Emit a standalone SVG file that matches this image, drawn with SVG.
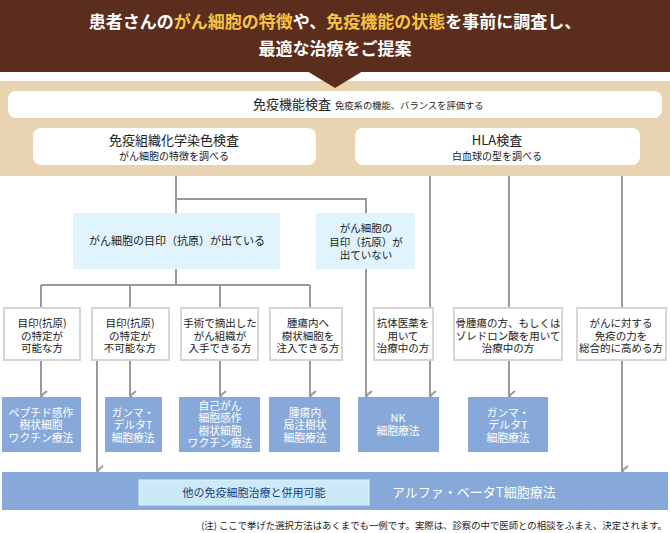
<svg xmlns="http://www.w3.org/2000/svg" width="670" height="533" viewBox="0 0 670 533">
<defs>
<style>
text{font-family:"Noto Sans CJK JP","Noto Sans",sans-serif;}
.ttl{font-size:17px;font-weight:bold;fill:#ffffff;text-anchor:middle;}
.hl{fill:#f6c443;}
.wb{fill:#ffffff;}
.rb{fill:#ffffff;stroke:#d6d6d6;stroke-width:2;}
.bb{fill:#87a9d9;}
.lb{fill:#e1f3fd;}
.t{font-size:10.5px;fill:#222;text-anchor:middle;}
.tw{font-size:10.8px;fill:#ffffff;text-anchor:middle;}
.ln{stroke:#9a9a9a;stroke-width:2;fill:none;}
</style>
<marker id="ar" viewBox="0 0 12 8" refX="6" refY="7" markerWidth="12" markerHeight="8" markerUnits="userSpaceOnUse" orient="auto-start-reverse">
<path d="M1,1 L6,7 L11,1" fill="none" stroke="#9a9a9a" stroke-width="2"/>
</marker>
</defs>
<rect width="670" height="533" fill="#ffffff"/>
<g id="header">
<rect x="0" y="0" width="670" height="72" fill="#5b2d1d"/>
<rect x="0" y="81" width="670" height="95" fill="#e8d4b1"/>
<polygon points="307,71 363,71 335,88" fill="#5b2d1d"/>
<text class="ttl" x="335" y="28">患者さんの<tspan class="hl">がん細胞の特徴</tspan>や、<tspan class="hl">免疫機能の状態</tspan>を事前に調査し、<tspan x="335" y="55">最適な治療をご提案</tspan></text>
</g>
<g id="n-kinou">
<rect class="wb" x="8" y="91" width="654" height="27" rx="8"/>
<text x="253" y="109" font-size="13" fill="#222">免疫機能検査<tspan font-size="9.3" dx="4">免疫系の機能、バランスを評価する</tspan></text>
</g>
<g id="n-soshiki">
<rect class="wb" x="33" y="128" width="283" height="37" rx="8"/>
<text x="174" y="145" font-size="13" fill="#222" text-anchor="middle">免疫組織化学染色検査<tspan x="174" y="160" font-size="10">がん細胞の特徴を調べる</tspan></text>
</g>
<g id="n-hla">
<rect class="wb" x="355" y="128" width="285" height="37" rx="8"/>
<text x="497" y="145" font-size="13" fill="#222" text-anchor="middle">HLA検査<tspan x="497" y="160" font-size="10">白血球の型を調べる</tspan></text>
</g>
<g id="connectors">
<path class="ln" d="M176,176 V213 M176,199 H366 V213 M176,269 V285 M41,285 H310 M41,285 V307 M130,285 V307 M220,285 V307 M310,285 V307 M430,176 V307 M509,176 V307 M622,176 V307"/>
<path class="ln" d="M41,360 V396" marker-end="url(#ar)"/>
<path class="ln" d="M130,360 V396" marker-end="url(#ar)"/>
<path class="ln" d="M220,360 V396" marker-end="url(#ar)"/>
<path class="ln" d="M310,360 V396" marker-end="url(#ar)"/>
<path class="ln" d="M97,360 V471" marker-end="url(#ar)"/>
<path class="ln" d="M366,269 V396" marker-end="url(#ar)"/>
<path class="ln" d="M430,360 V396" marker-end="url(#ar)"/>
<path class="ln" d="M509,360 V396" marker-end="url(#ar)"/>
<path class="ln" d="M622,360 V471" marker-end="url(#ar)"/>
</g>
<g id="n-deteiru">
<rect class="lb" x="73" y="213" width="207" height="56"/>
<text x="177" y="245" font-size="11" fill="#222" text-anchor="middle">がん細胞の目印（抗原）が出ている</text>
</g>
<g id="n-detenai">
<rect class="lb" x="316" y="213" width="99" height="56"/>
<text class="t" font-size="11" x="366" y="232">がん細胞の<tspan x="366" y="246">目印（抗原）が</tspan><tspan x="366" y="259">出ていない</tspan></text>
</g>
<g id="n-r1">
<rect class="rb" x="4" y="308" width="76" height="52"/>
<text class="t" x="42" y="327">目印(抗原)<tspan x="42" y="339.5">の特定が</tspan><tspan x="42" y="352">可能な方</tspan></text>
</g>
<g id="n-r2">
<rect class="rb" x="92" y="308" width="77" height="52"/>
<text class="t" x="130" y="327">目印(抗原)<tspan x="130" y="339.5">の特定が</tspan><tspan x="130" y="352">不可能な方</tspan></text>
</g>
<g id="n-r3">
<rect class="rb" x="181" y="308" width="77" height="52"/>
<text class="t" x="220" y="327">手術で摘出した<tspan x="220" y="339.5">がん組織が</tspan><tspan x="220" y="352">入手できる方</tspan></text>
</g>
<g id="n-r4">
<rect class="rb" x="270" y="308" width="72" height="52"/>
<text class="t" x="308" y="327">腫瘍内へ<tspan x="308" y="339.5">樹状細胞を</tspan><tspan x="308" y="352">注入できる方</tspan></text>
</g>
<g id="n-r5">
<rect class="rb" x="374" y="308" width="59" height="52"/>
<text class="t" x="403" y="327">抗体医薬を<tspan x="403" y="339.5">用いて</tspan><tspan x="403" y="352">治療中の方</tspan></text>
</g>
<g id="n-r6">
<rect class="rb" x="454" y="308" width="108" height="52"/>
<text class="t" x="508" y="327">骨腫瘍の方、もしくは<tspan x="508" y="339.5">ゾレドロン酸を用いて</tspan><tspan x="508" y="352">治療中の方</tspan></text>
</g>
<g id="n-r7">
<rect class="rb" x="577" y="308" width="89" height="52"/>
<text class="t" x="621" y="327">がんに対する<tspan x="621" y="339.5">免疫の力を</tspan><tspan x="621" y="352">総合的に高める方</tspan></text>
</g>
<g id="n-b1">
<rect class="bb" x="2" y="397" width="79" height="55"/>
<text class="tw" x="41" y="416.5">ペプチド感作<tspan x="41" y="429">樹状細胞</tspan><tspan x="41" y="441.5">ワクチン療法</tspan></text>
</g>
<g id="n-b2">
<rect class="bb" x="105" y="397" width="57" height="55"/>
<text class="tw" x="133" y="416.5">ガンマ・<tspan x="133" y="429">デルタT</tspan><tspan x="133" y="441.5">細胞療法</tspan></text>
</g>
<g id="n-b3">
<rect class="bb" x="179" y="397" width="81" height="55"/>
<text class="tw" x="220" y="410">自己がん<tspan x="220" y="422.3">細胞感作</tspan><tspan x="220" y="434.6">樹状細胞</tspan><tspan x="220" y="447">ワクチン療法</tspan></text>
</g>
<g id="n-b4">
<rect class="bb" x="269" y="397" width="71" height="55"/>
<text class="tw" x="305" y="416.5">腫瘍内<tspan x="305" y="429">局注樹状</tspan><tspan x="305" y="441.5">細胞療法</tspan></text>
</g>
<g id="n-b5">
<rect class="bb" x="358" y="397" width="81" height="55"/>
<text class="tw" x="398" y="422">NK<tspan x="398" y="435">細胞療法</tspan></text>
</g>
<g id="n-b6">
<rect class="bb" x="468" y="397" width="80" height="55"/>
<text class="tw" x="508" y="416.5">ガンマ・<tspan x="508" y="429">デルタT</tspan><tspan x="508" y="441.5">細胞療法</tspan></text>
</g>
<g id="n-ab">
<rect class="bb" x="2" y="472" width="666" height="38"/>
<rect x="139" y="480" width="230" height="25" fill="#cce9f9" stroke="#dff1fc" stroke-width="1"/>
<text x="254" y="496.5" font-size="11" fill="#1c3b78" text-anchor="middle">他の免疫細胞治療と併用可能</text>
<text x="392" y="497" font-size="13" fill="#ffffff">アルファ・ベータT細胞療法</text>
</g>
<g id="note">
<text x="667" y="529" font-size="9.4" fill="#222" text-anchor="end">(注) ここで挙げた選択方法はあくまでも一例です。実際は、診察の中で医師との相談をふまえ、決定されます。</text>
</g>
</svg>
